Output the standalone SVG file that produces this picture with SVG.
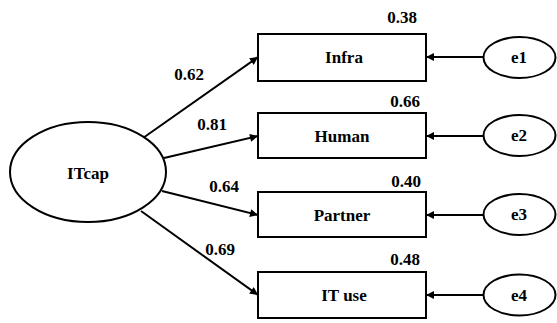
<svg xmlns="http://www.w3.org/2000/svg" width="557" height="323" viewBox="0 0 557 323" font-family="Liberation Serif" font-weight="bold" font-size="17">
<style>
text{fill:#000;text-anchor:middle}
.box{fill:#fff;stroke:#000;stroke-width:2}
.ell{fill:#fff;stroke:#000;stroke-width:2}
.conn line{stroke:#000;stroke-width:2;marker-end:url(#ah)}
</style>
<defs>
<marker id="ah" viewBox="0 0 10 10" refX="10" refY="5" markerWidth="4.5" markerHeight="4" orient="auto" markerUnits="strokeWidth">
<path d="M0,0 L10,5 L0,10 z" fill="#000"/>
</marker>
</defs>
<rect width="557" height="323" fill="#fff"/>
<g id="connectors" class="conn">
<line x1="143" y1="138" x2="258" y2="57"/>
<line x1="164" y1="158" x2="258" y2="136"/>
<line x1="162" y1="191" x2="258" y2="215"/>
<line x1="141" y1="211" x2="258" y2="295"/>
<line x1="483" y1="57" x2="426" y2="57"/>
<line x1="483" y1="136" x2="426" y2="136"/>
<line x1="483" y1="215" x2="426" y2="215"/>
<line x1="483" y1="295" x2="426" y2="295"/>
</g>
<g id="labels">
<text x="189" y="80">0.62</text>
<text x="212" y="130">0.81</text>
<text x="224" y="192">0.64</text>
<text x="220" y="255">0.69</text>
<text x="402" y="23">0.38</text>
<text x="405" y="107">0.66</text>
<text x="406" y="187">0.40</text>
<text x="405" y="265">0.48</text>
</g>
<g id="ITcap"><ellipse class="ell" cx="88" cy="172" rx="78" ry="50"/><text x="88" y="179">ITcap</text></g>
<g id="Infra"><rect class="box" x="258" y="34" width="168" height="47"/><text x="344" y="63">Infra</text></g>
<g id="Human"><rect class="box" x="258" y="113" width="168" height="45"/><text x="342" y="142">Human</text></g>
<g id="Partner"><rect class="box" x="258" y="192" width="168" height="45"/><text x="342" y="221">Partner</text></g>
<g id="ITuse"><rect class="box" x="258" y="272" width="168" height="46"/><text x="344" y="301">IT use</text></g>
<g id="e1"><ellipse class="ell" cx="519.5" cy="57.5" rx="36" ry="20.5"/><text x="519" y="63">e1</text></g>
<g id="e2"><ellipse class="ell" cx="519.5" cy="135.5" rx="36" ry="20.5"/><text x="519" y="141">e2</text></g>
<g id="e3"><ellipse class="ell" cx="519.5" cy="214.5" rx="36" ry="20.5"/><text x="519" y="220">e3</text></g>
<g id="e4"><ellipse class="ell" cx="519.5" cy="295" rx="36" ry="20.5"/><text x="519" y="301">e4</text></g>
</svg>
